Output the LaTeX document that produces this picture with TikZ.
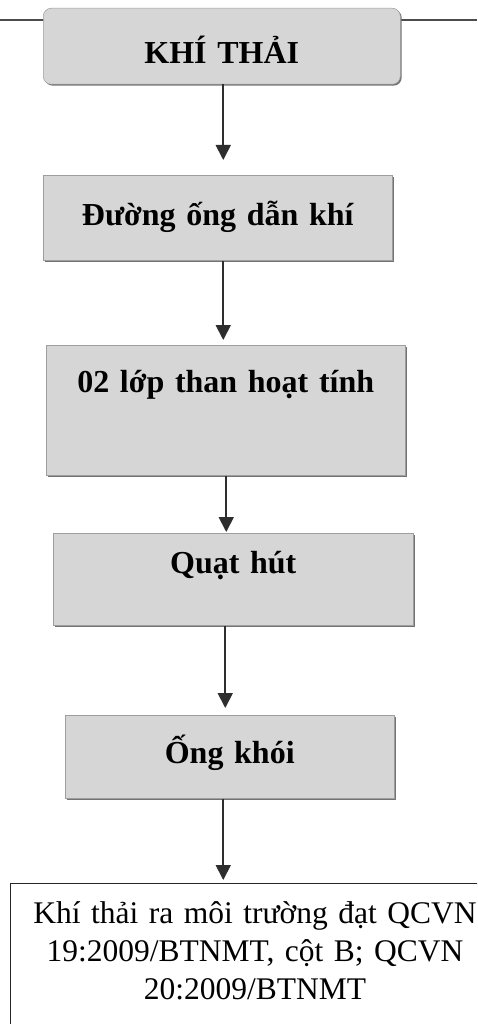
\documentclass[tikz,border=0pt]{standalone}
\usepackage{fontspec}
\setmainfont{Liberation Serif}
\usetikzlibrary{arrows.meta,shadows}

\definecolor{boxfill}{gray}{0.84}
\definecolor{boxedge}{gray}{0.62}
\definecolor{inkline}{gray}{0.18}

\tikzset{
  procbox/.style={fill=boxfill, draw=boxedge, line width=0.5pt,
    drop shadow={shadow xshift=1.4pt, shadow yshift=-1.4pt, fill=black!55, opacity=1},
    inner sep=0pt, anchor=north west, align=center,
    font=\bfseries\fontsize{32}{38}\selectfont},
  flow/.style={draw=inkline, line width=1.8pt,
    -{Triangle[width=15pt,length=15pt]}},
  outbox/.style={draw=black!85, line width=1.2pt, inner sep=0pt,
    anchor=north west, minimum width=520pt, minimum height=200pt},
  outtext/.style={anchor=base, align=center, text width=470pt,
    inner sep=0pt, font=\fontsize{31.5}{38}\selectfont}
}

\begin{document}
\begin{tikzpicture}[x=1pt,y=-1pt]
  \useasboundingbox (0,0) rectangle (477,1024);
  \fill[white] (0,0) rectangle (477,1024);
  \clip (0,0) rectangle (477,1024);

  % rule across the top of the page
  \draw[black!70, line width=1.2pt] (0,20) -- (477,20);

  % process steps
  \node[procbox, rounded corners=8pt, text width=357pt, text height=55pt, text depth=21pt]
    (b1) at (43,8) {KHÍ THẢI};
  \node[procbox, text width=349pt, text height=50pt, text depth=35pt]
    (b2) at (43,175) {Đường ống dẫn khí};
  \node[procbox, text width=359pt, text height=47pt, text depth=83pt]
    (b3) at (46,345) {02 lớp than hoạt tính};
  \node[procbox, text width=360pt, text height=40pt, text depth=52pt]
    (b4) at (53,533) {Quạt hút};
  \node[procbox, text width=329pt, text height=48pt, text depth=35pt]
    (b5) at (65,715) {Ống khói};

  % final outcome
  \node[outbox] (out) at (10,883) {};
  \node[outtext] (outlbl) at (255,923)
    {Khí thải ra môi trường đạt QCVN\\19:2009/BTNMT, cột B; QCVN\\20:2009/BTNMT};

  % connectors
  \draw[flow, shorten >=15pt] ([xshift=1.5pt]b1.south) -- ([xshift=1.5pt]b1.south |- b2.north);
  \draw[flow, shorten >=5pt]  ([xshift=5.5pt]b2.south) -- ([xshift=5.5pt]b2.south |- b3.north);
  \draw[flow, shorten >=1pt]  ([xshift=0.5pt]b3.south) -- ([xshift=0.5pt]b3.south |- b4.north);
  \draw[flow, shorten >=7pt]  ([xshift=-8pt]b4.south) -- ([xshift=-8pt]b4.south |- b5.north);
  \draw[flow, shorten >=3pt]  ([xshift=-6.5pt]b5.south) -- ([xshift=-6.5pt]b5.south |- out.north);
\end{tikzpicture}
\end{document}
